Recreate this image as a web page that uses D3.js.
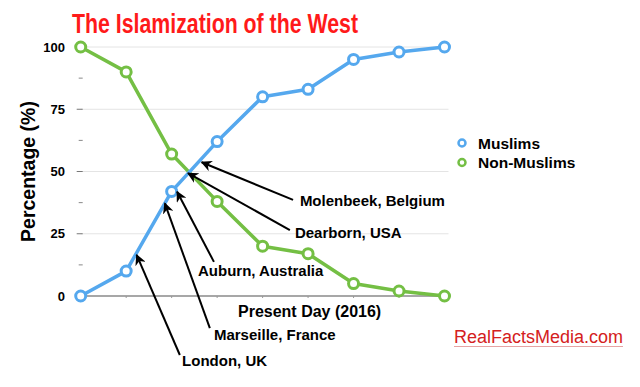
<!DOCTYPE html>
<html lang="en">
<head>
<meta charset="UTF-8">
<title>The Islamization of the West</title>
<script src="https://d3js.org/d3.v7.min.js"></script>
<style>
  body { margin: 0; background: #fff; }
  text { font-family: "Liberation Sans", Arial, Helvetica, sans-serif; }
</style>
</head>
<body>
<script>
const width = 640
const height = 387

// data
const steps = [0, 1, 2, 3, 4, 5, 6, 7, 8]
const muslims = [0, 10, 42, 62, 80, 83, 95, 98, 100]
const nonMuslims = [100, 90, 57, 38, 20, 17, 5, 2, 0]
const yTicks = [0, 25, 50, 75, 100]
const yMinor = [12.5, 37.5, 62.5, 87.5]

// annotation arrows: name, label anchor, arrow tail, arrow tip (step, percent)
const places = ["Molenbeek, Belgium", "Dearborn, USA", "Auburn, Australia", "Marseille, France", "London, UK"]
const labelAt = [[4.82, 36], [4.71, 23.2], [2.58, 8.1], [2.93, -17.7], [2.23, -28]]
const tailAt = [[4.67, 38.6], [4.6, 26.5], [2.93, 13.7], [2.84, -12.9], [2.18, -23.7]]
const tipAt = [[2.66, 53.7], [2.36, 49.3], [2.12, 41.9], [1.85, 37.2], [1.23, 16.5]]

const blue = "#55a8ee"
const green = "#74bf44"

const x = d3.scaleLinear().domain([0, 8]).range([80.7, 444.5])
const y = d3.scaleLinear().domain([0, 100]).range([296, 47])

const svg = d3.select("body").append("svg")
  .attr("width", width).attr("height", height)

svg.append("defs").append("marker")
  .attr("id", "arrow")
  .attr("viewBox", "0 0 10 10")
  .attr("refX", 9).attr("refY", 5)
  .attr("markerWidth", 11).attr("markerHeight", 11)
  .attr("markerUnits", "userSpaceOnUse")
  .attr("orient", "auto")
  .append("path").attr("d", "M0,0 L10,5 L0,10 L3,5 Z").attr("fill", "#000")

// title
svg.append("text")
  .attr("x", 72).attr("y", 33)
  .attr("textLength", 286).attr("lengthAdjust", "spacingAndGlyphs")
  .attr("fill", "#ff1a1a")
  .style("font-size", "27px").style("font-weight", "bold")
  .text("The Islamization of the West")

// grid lines
svg.append("g").selectAll("line")
  .data(yTicks.filter(d => d > 0))
  .join("line")
  .attr("x1", x(0)).attr("x2", x(8) + 4)
  .attr("y1", d => y(d)).attr("y2", d => y(d))
  .attr("stroke", "#e4e4e4").attr("stroke-width", 1)

// y tick dashes
svg.append("g").selectAll("line")
  .data(yTicks.filter(d => d > 0 && d < 100))
  .join("line")
  .attr("x1", x(0) - 4).attr("x2", x(0) + 2)
  .attr("y1", d => y(d)).attr("y2", d => y(d))
  .attr("stroke", "#777").attr("stroke-width", 1)

svg.append("g").selectAll("line")
  .data(yMinor)
  .join("line")
  .attr("x1", x(0) - 2).attr("x2", x(0) + 2)
  .attr("y1", d => y(d)).attr("y2", d => y(d))
  .attr("stroke", "#888").attr("stroke-width", 1)

// x axis line and little ticks
svg.append("line")
  .attr("x1", x(0)).attr("x2", x(8) + 6)
  .attr("y1", y(0)).attr("y2", y(0))
  .attr("stroke", "#8a8a8a").attr("stroke-width", 1.5)

svg.append("g").selectAll("line")
  .data(steps.slice(1, 8))
  .join("line")
  .attr("x1", d => x(d)).attr("x2", d => x(d))
  .attr("y1", y(0)).attr("y2", y(0) + 2)
  .attr("stroke", "#999")

// y tick labels
svg.append("g").selectAll("text")
  .data(yTicks)
  .join("text")
  .attr("x", 65).attr("y", d => y(d) + 4.5)
  .attr("text-anchor", "end")
  .style("font-size", "13px").style("font-weight", "bold")
  .text(d => d)

// axis titles
svg.append("text")
  .attr("transform", `translate(35, ${(y(0) + y(100)) / 2}) rotate(-90)`)
  .attr("text-anchor", "middle")
  .style("font-size", "19.5px").style("font-weight", "bold")
  .text("Percentage (%)")

svg.append("text")
  .attr("x", 238).attr("y", 316.5)
  .style("font-size", "16px").style("font-weight", "bold")
  .text("Present Day (2016)")

// series
const line = d3.line().x((d, i) => x(steps[i])).y(d => y(d))
const series = [
  { name: "Non-Muslims", values: nonMuslims, color: green },
  { name: "Muslims", values: muslims, color: blue }
]

series.forEach(s => {
  svg.append("path")
    .attr("d", line(s.values))
    .attr("fill", "none")
    .attr("stroke", s.color).attr("stroke-width", 3.5)
    .attr("stroke-linejoin", "round")
  svg.append("g").selectAll("circle")
    .data(s.values)
    .join("circle")
    .attr("cx", (d, i) => x(steps[i])).attr("cy", d => y(d))
    .attr("r", 5)
    .attr("fill", "#fff")
    .attr("stroke", s.color).attr("stroke-width", 3)
})

// legend
const legend = svg.append("g")
legend.selectAll("circle")
  .data(series.slice().reverse())
  .join("circle")
  .attr("cx", 462).attr("cy", (d, i) => 143 + i * 19.5)
  .attr("r", 3.5)
  .attr("fill", "#fff")
  .attr("stroke", d => d.color).attr("stroke-width", 2.5)
legend.selectAll("text")
  .data(series.slice().reverse())
  .join("text")
  .attr("x", 478).attr("y", (d, i) => 148.5 + i * 19.5)
  .style("font-size", "15.5px").style("font-weight", "bold")
  .text(d => d.name)

// annotations
const notes = svg.append("g")
notes.selectAll("line")
  .data(places)
  .join("line")
  .attr("x1", (d, i) => x(tailAt[i][0])).attr("y1", (d, i) => y(tailAt[i][1]))
  .attr("x2", (d, i) => x(tipAt[i][0])).attr("y2", (d, i) => y(tipAt[i][1]))
  .attr("stroke", "#000").attr("stroke-width", 2)
  .attr("marker-end", "url(#arrow)")
notes.selectAll("text")
  .data(places)
  .join("text")
  .attr("x", (d, i) => x(labelAt[i][0])).attr("y", (d, i) => y(labelAt[i][1]))
  .style("font-size", "15px").style("font-weight", "bold")
  .text(d => d)

// source
svg.append("text")
  .attr("x", 454).attr("y", 343)
  .attr("fill", "#d42020")
  .style("font-size", "18px")
  .text("RealFactsMedia.com")
svg.append("line")
  .attr("x1", 454).attr("x2", 623)
  .attr("y1", 346.5).attr("y2", 346.5)
  .attr("stroke", "#e6a4a4").attr("stroke-width", 1.2)
</script>
</body>
</html>
